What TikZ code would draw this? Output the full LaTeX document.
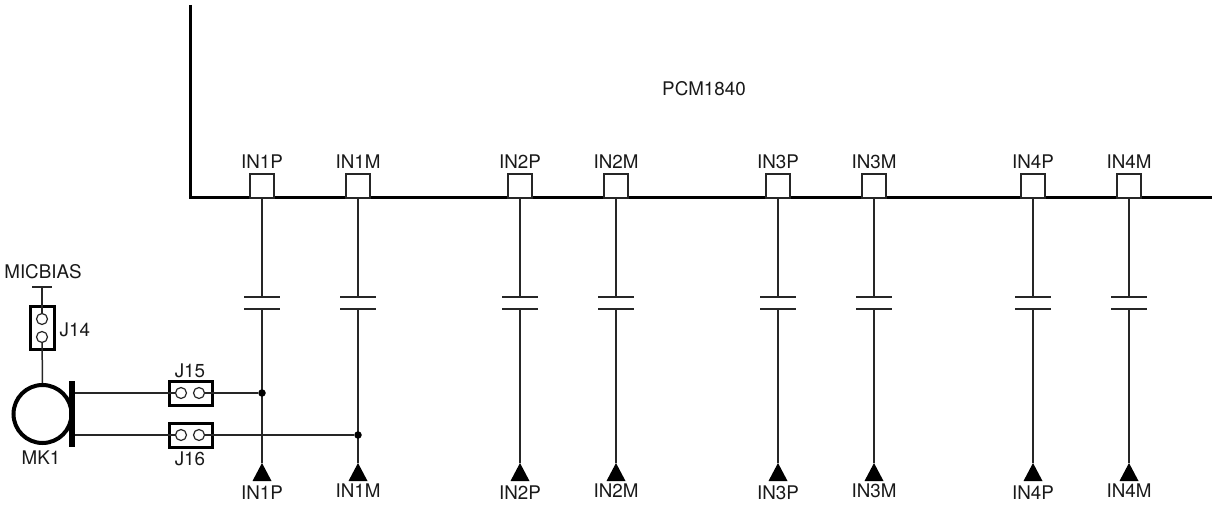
\documentclass[tikz,border=0pt]{standalone}
\usepackage{fontspec}
\setmainfont{TeX Gyre Heros}
\tikzset{
  wire/.style={line width=1.5pt,black!85},
  thick line/.style={line width=3pt,black},
  pinbox/.style={draw=black!85,line width=1.5pt,fill=white,minimum width=24pt,minimum height=24pt,inner sep=0pt},
  jumper/.style={draw=black,line width=3pt,fill=white,inner sep=0pt},
  hole/.style={circle,draw=black!85,line width=1.2pt,fill=white,minimum size=11pt,inner sep=0pt},
  dotj/.style={circle,fill=black,minimum size=7.5pt,inner sep=0pt},
  lbl/.style={font=\fontsize{18.8}{18.8}\selectfont,text=black!90,anchor=base,inner sep=0pt},
  platebar/.style={line width=1.4pt,black!85},
  tri/.style={fill=black},
}
\begin{document}
\begin{tikzpicture}[x=1pt,y=-1pt]
\useasboundingbox (0,0) rectangle (1212,505);
% IC outline
\coordinate (icTop) at (190.5,5);
\coordinate (icCorner) at (190.5,197.5);
\coordinate (icRight) at (1212,197.5);
\draw[thick line,line join=miter] (icTop) -- (icCorner) -- (icRight);
\node[lbl] (pcm) at (704,96) {PCM1840};
% channels
\foreach \x/\n/\by in {262/IN1P/499,358/IN1M/497.5,520/IN2P/499,616/IN2M/497.5,778/IN3P/499,874/IN3M/497.5,1033/IN4P/499,1129/IN4M/497.5}{
  \node[pinbox] (pin\n) at (\x,186) {};
  \node[lbl] (top\n) at (\x,169) {\n};
  \coordinate (capa\n) at (\x,297);
  \coordinate (capb\n) at (\x,309);
  \coordinate (capal\n) at (\x-18,297);
  \coordinate (capar\n) at (\x+18,297);
  \coordinate (capbl\n) at (\x-18,309);
  \coordinate (capbr\n) at (\x+18,309);
  \coordinate (tip\n) at (\x,463);
  \coordinate (tl\n) at (\x-9.5,481);
  \coordinate (tr\n) at (\x+9.5,481);
  \draw[wire] (pin\n.south) -- (capa\n);
  \draw[platebar] (capal\n) -- (capar\n);
  \draw[platebar] (capbl\n) -- (capbr\n);
  \draw[wire] (capb\n) -- (tip\n);
  \fill[tri] (tip\n) -- (tr\n) -- (tl\n) -- cycle;
  \node[lbl] (bot\n) at (\x,\by) {\n};
}
% microphone
\node[circle,draw=black,line width=4pt,minimum size=58pt,inner sep=0pt] (mic) at (42.5,414) {};
\node[fill=black,minimum width=6pt,minimum height=66pt,inner sep=0pt] (micbar) at (72,414) {};
\node[lbl] (mk) at (41,464.5) {MK1};
% J14
\coordinate (biasL) at (32,287);
\coordinate (biasR) at (52,287);
\coordinate (bias) at (42,287);
\draw[platebar] (biasL) -- (biasR);
\node[lbl] (micbias) at (43,278.5) {MICBIAS};
\node[jumper,minimum width=24pt,minimum height=43pt] (j14) at (42,327.5) {};
\node[hole] (j14a) at (42,319) {};
\node[hole] (j14b) at (42,337) {};
\draw[wire] (bias) -- (j14a);
\draw[wire] (j14b) -- (mic.north);
\node[lbl,anchor=base west] (j14l) at (59.5,336) {J14};
% J15, J16
\node[jumper,minimum width=43pt,minimum height=24pt] (j15) at (190.5,393) {};
\node[hole] (j15a) at (181,393) {};
\node[hole] (j15b) at (199,393) {};
\node[lbl] (j15l) at (190,377.5) {J15};
\node[jumper,minimum width=43pt,minimum height=24pt] (j16) at (190.5,435) {};
\node[hole] (j16a) at (181,435) {};
\node[hole] (j16b) at (199,435) {};
\node[lbl] (j16l) at (190,465.5) {J16};
\node[dotj] (d1) at (262,393) {};
\node[dotj] (d2) at (358,435) {};
\coordinate (m1) at (75,393);
\coordinate (m2) at (75,435);
\draw[wire] (m1) -- (j15a);
\draw[wire] (j15b) -- (d1);
\draw[wire] (m2) -- (j16a);
\draw[wire] (j16b) -- (d2);
\end{tikzpicture}
\end{document}
